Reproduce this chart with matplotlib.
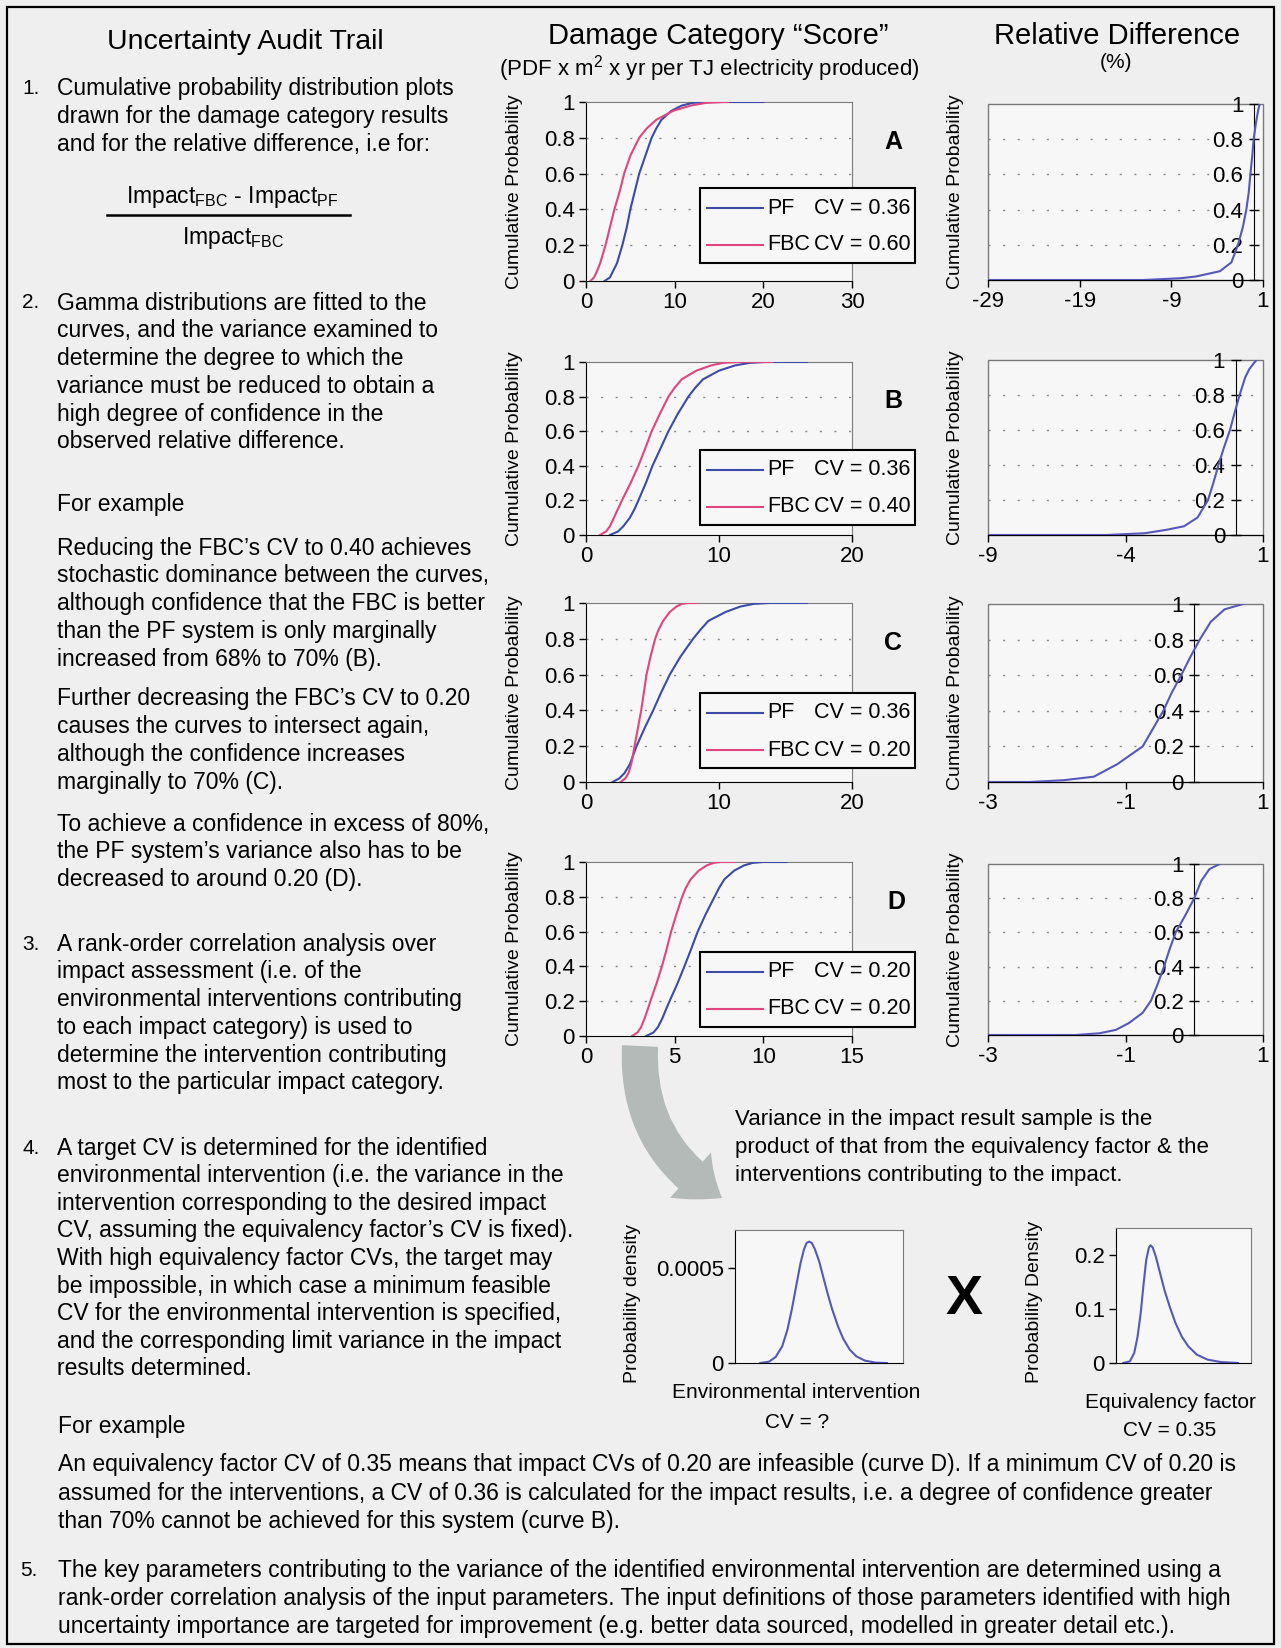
import matplotlib.pyplot as plt
from matplotlib.patches import Rectangle, FancyArrowPatch
from matplotlib.lines import Line2D

plt.rcParams['font.family'] = ['Liberation Sans', 'DejaVu Sans']
plt.rcParams['mathtext.fontset'] = 'custom'
plt.rcParams['mathtext.rm'] = 'Liberation Sans'
plt.rcParams['mathtext.it'] = 'Liberation Sans:italic'
plt.rcParams['axes.unicode_minus'] = False

W, H = 1281, 1648

BG = '#efefef'
PLOT_BG = '#f7f7f7'
PF_COLOR = '#3b4ba6'
FBC_COLOR = '#e0457f'
REL_COLOR = '#5558b8'
GRID = '#8a8a8a'
BORDER = '#7a7a7a'
ARROW = '#b4bab7'

# ---- cumulative probability curves, damage category score ----
CDF_Y = [0, 0.02, 0.05, 0.1, 0.15, 0.2, 0.3, 0.4, 0.5, 0.6, 0.7, 0.8, 0.85, 0.9, 0.95, 0.98, 0.995, 1.0, 1.0]

A_PF_X = [2.1, 2.7, 3.0, 3.5, 3.8, 4.1, 4.6, 5.0, 5.5, 6.0, 6.7, 7.4, 7.9, 8.5, 9.6, 10.8, 12.0, 13.5, 20.0]
A_FBC_X = [0.5, 0.9, 1.2, 1.6, 1.9, 2.2, 2.7, 3.2, 3.8, 4.3, 5.0, 6.0, 6.8, 7.9, 9.8, 11.8, 13.5, 15.5, 16.0]
B_PF_X = [1.8, 2.4, 2.8, 3.3, 3.65, 3.94, 4.5, 5.0, 5.6, 6.2, 6.9, 7.7, 8.2, 8.8, 10.0, 11.2, 12.3, 13.5, 16.6]
B_FBC_X = [1.05, 1.5, 1.8, 2.1, 2.4, 2.7, 3.35, 3.94, 4.45, 4.94, 5.55, 6.2, 6.65, 7.2, 8.3, 9.4, 10.3, 11.5, 14.0]
C_PF_X = [2.0, 2.5, 2.9, 3.3, 3.55, 3.8, 4.4, 5.05, 5.65, 6.3, 7.1, 8.05, 8.6, 9.2, 10.5, 11.6, 12.6, 13.8, 16.6]
C_FBC_X = [2.6, 2.95, 3.2, 3.4, 3.53, 3.65, 3.9, 4.15, 4.35, 4.55, 4.85, 5.2, 5.45, 5.8, 6.3, 6.8, 7.2, 7.7, 8.3]
D_PF_X = [3.4, 3.8, 4.05, 4.3, 4.5, 4.71, 5.15, 5.55, 5.93, 6.3, 6.75, 7.25, 7.5, 7.8, 8.35, 8.9, 9.4, 10.0, 11.3]
D_FBC_X = [2.6, 2.9, 3.1, 3.3, 3.47, 3.63, 3.97, 4.28, 4.55, 4.8, 5.1, 5.42, 5.62, 5.9, 6.35, 6.8, 7.2, 7.6, 8.4]

PF_CV = [0.36, 0.36, 0.36, 0.20]
FBC_CV = [0.60, 0.40, 0.20, 0.20]
PANEL_LETTERS = ['A', 'B', 'C', 'D']
SCORE_XMAX = [30, 20, 20, 15]
SCORE_XSTEP = [10, 10, 10, 5]

# ---- relative difference curves (%) ----
REL_A_X = [-29, -12, -8, -6.3, -3.7, -2.45, -1.73, -1.2, -0.82, -0.55, -0.38, -0.18, -0.02, 0.25, 0.5, 0.64]
REL_A_Y = [0, 0, 0.01, 0.02, 0.05, 0.1, 0.2, 0.3, 0.4, 0.5, 0.6, 0.7, 0.8, 0.9, 0.97, 1.0]
REL_B_X = [-9, -4.7, -3.3, -2.5, -1.87, -1.38, -1.0, -0.8, -0.62, -0.42, -0.2, -0.03, 0.15, 0.35, 0.51, 0.76]
REL_B_Y = [0, 0, 0.01, 0.03, 0.05, 0.1, 0.2, 0.3, 0.4, 0.5, 0.6, 0.7, 0.8, 0.9, 0.95, 1.0]
REL_C_X = [-3, -2.39, -1.9, -1.46, -1.12, -0.75, -0.6, -0.45, -0.33, -0.19, -0.06, 0.08, 0.24, 0.44, 0.71]
REL_C_Y = [0, 0, 0.01, 0.03, 0.1, 0.2, 0.3, 0.4, 0.5, 0.6, 0.7, 0.8, 0.9, 0.97, 1.0]
REL_D_X = [-3, -1.73, -1.38, -1.14, -0.95, -0.75, -0.63, -0.53, -0.44, -0.36, -0.27, -0.13, 0.0, 0.1, 0.22, 0.37]
REL_D_Y = [0, 0, 0.01, 0.03, 0.07, 0.13, 0.2, 0.3, 0.4, 0.5, 0.6, 0.7, 0.8, 0.9, 0.97, 1.0]

REL_XLIM = [(-29, 1), (-9, 1), (-3, 1), (-3, 1)]
REL_XTICKS = [[-29, -19, -9, 1], [-9, -4, 1], [-3, -1, 1], [-3, -1, 1]]

# ---- probability density sketches ----
ENV_X = [1.51, 2.03, 2.42, 2.81, 3.12, 3.38, 3.64, 3.90, 4.10, 4.26, 4.42, 4.57, 4.75, 5.01,
         5.27, 5.53, 5.79, 6.13, 6.44, 6.83, 7.22, 7.74, 8.39, 9.04]
ENV_Y = [0, 0.000007, 0.0000316, 0.0000877, 0.000175, 0.000281, 0.000404, 0.000526, 0.000596,
         0.000632, 0.000639, 0.000632, 0.0006, 0.000535, 0.000447, 0.00036, 0.000281, 0.000193,
         0.000128, 0.0000702, 0.0000351, 0.0000123, 0.0000018, 0]
EQF_X = [0.54, 1.03, 1.35, 1.60, 1.83, 2.05, 2.24, 2.44, 2.56, 2.72, 2.95, 3.27, 3.59, 3.97,
         4.39, 4.87, 5.35, 5.99, 6.79, 7.76, 9.04]
EQF_Y = [0, 0.0031, 0.0185, 0.0492, 0.0923, 0.148, 0.191, 0.214, 0.218, 0.214, 0.197, 0.166,
         0.135, 0.105, 0.075, 0.049, 0.031, 0.0154, 0.0062, 0.0018, 0]

# ---- text blocks ----
ITEM1 = ['Cumulative probability distribution plots',
         'drawn for the damage category results',
         'and for the relative difference, i.e for:']
ITEM2 = ['Gamma distributions are fitted to the',
         'curves, and the variance examined to',
         'determine the degree to which the',
         'variance must be reduced to obtain a',
         'high degree of confidence in the',
         'observed relative difference.']
EX_B = ['Reducing the FBC\u2019s CV to 0.40 achieves',
        'stochastic dominance between the curves,',
        'although confidence that the FBC is better',
        'than the PF system is only marginally',
        'increased from 68% to 70% (B).']
EX_C = ['Further decreasing the FBC\u2019s CV to 0.20',
        'causes the curves to intersect again,',
        'although the confidence increases',
        'marginally to 70% (C).']
EX_D = ['To achieve a confidence in excess of 80%,',
        'the PF system\u2019s variance also has to be',
        'decreased to around 0.20 (D).']
ITEM3 = ['A rank-order correlation analysis over',
         'impact assessment (i.e. of the',
         'environmental interventions contributing',
         'to each impact category) is used to',
         'determine the intervention contributing',
         'most to the particular impact category.']
ITEM4 = ['A target CV is determined for the identified',
         'environmental intervention (i.e. the variance in the',
         'intervention corresponding to the desired impact',
         'CV, assuming the equivalency factor\u2019s CV is fixed).',
         'With high equivalency factor CVs, the target may',
         'be impossible, in which case a minimum feasible',
         'CV for the environmental intervention is specified,',
         'and the corresponding limit variance in the impact',
         'results determined.']
EX_4 = ['An equivalency factor CV of 0.35 means that impact CVs of 0.20 are infeasible (curve D). If a minimum CV of 0.20 is',
        'assumed for the interventions, a CV of 0.36 is calculated for the impact results, i.e. a degree of confidence greater',
        'than 70% cannot be achieved for this system (curve B).']
ITEM5 = ['The key parameters contributing to the variance of the identified environmental intervention are determined using a',
         'rank-order correlation analysis of the input parameters. The input definitions of those parameters identified with high',
         'uncertainty importance are targeted for improvement (e.g. better data sourced, modelled in greater detail etc.).']
VARIANCE_NOTE = ['Variance in the impact result sample is the',
                 'product of that from the equivalency factor & the',
                 'interventions contributing to the impact.']

fig = plt.figure(figsize=(W / 100, H / 100), dpi=100, facecolor=BG)


def px_box(l, t, r, b):
    return [l / W, 1 - b / H, (r - l) / W, (b - t) / H]


def ftext(x, y, s, **kw):
    kw.setdefault('va', 'center')
    kw.setdefault('fontsize', 16.5)
    return fig.text(x / W, 1 - y / H, s, **kw)


def lines(x, y0, rows, step=27.8, **kw):
    for i, s in enumerate(rows):
        ftext(x, y0 + i * step, s, **kw)


def style_ticks(ax):
    ax.tick_params(labelsize=16, length=5, width=1, color='black', pad=3)


def add_grid(ax):
    for g in (0.2, 0.4, 0.6, 0.8):
        ax.axhline(g, color=GRID, lw=1, ls=(0, (1.5, 9)), zorder=0.5)


# outer frame
fig.add_artist(Rectangle((7 / W, 1 - 1644 / H), 1267 / W, 1637 / H, transform=fig.transFigure,
                         fill=False, edgecolor='black', lw=1.6, zorder=10))

# headers
ftext(245, 42, 'Uncertainty Audit Trail', fontsize=20.5, ha='center')
ftext(718, 36, 'Damage Category \u201cScore\u201d', fontsize=21, ha='center')
ftext(709, 69, '(PDF x m$^{2}$ x yr per TJ electricity produced)', fontsize=16, ha='center')
ftext(1117, 36, 'Relative Difference', fontsize=21, ha='center')
ftext(1116, 63, '(%)', fontsize=15, ha='center')

# left column text
ftext(22, 89, '1.', fontsize=15)
lines(57, 89, ITEM1)
ftext(232, 197, r'Impact$_{\mathrm{FBC}}$ - Impact$_{\mathrm{PF}}$', ha='center')
fig.add_artist(Line2D([107 / W, 350 / W], [1 - 215 / H] * 2, color='black', lw=1.8))
ftext(233, 238, r'Impact$_{\mathrm{FBC}}$', ha='center')

ftext(22, 303, '2.', fontsize=15)
lines(57, 303, ITEM2)
ftext(57, 504, 'For example')
lines(57, 548, EX_B)
lines(57, 699, EX_C)
lines(57, 824, EX_D)
ftext(22, 944, '3.', fontsize=15)
lines(57, 944, ITEM3)
ftext(22, 1148, '4.', fontsize=15)
lines(57, 1148, ITEM4, step=27.6)
ftext(58, 1426, 'For example')
lines(58, 1465, EX_4, step=28.3)
ftext(20, 1570, '5.', fontsize=15)
lines(58, 1570, ITEM5, step=28)

# damage category score panels
score_boxes = [(586, 102, 852, 281), (586, 362, 852, 535), (586, 603, 852, 782), (586, 862, 852, 1036)]
score_pf = [A_PF_X, B_PF_X, C_PF_X, D_PF_X]
score_fbc = [A_FBC_X, B_FBC_X, C_FBC_X, D_FBC_X]
legend_tops = [188, 450, 693, 952]
letter_pos = [(893, 142), (893, 401), (893, 643), (896, 902)]

for i in range(4):
    ax = fig.add_axes(px_box(*score_boxes[i]))
    ax.set_facecolor(PLOT_BG)
    ax.plot(score_pf[i], CDF_Y, color=PF_COLOR, lw=1.5, zorder=3)
    ax.plot(score_fbc[i], CDF_Y, color=FBC_COLOR, lw=1.5, zorder=3)
    ax.set_xlim(0, SCORE_XMAX[i])
    ax.set_ylim(0, 1)
    ax.set_xticks(range(0, SCORE_XMAX[i] + 1, SCORE_XSTEP[i]))
    ax.set_yticks([0, 0.2, 0.4, 0.6, 0.8, 1])
    ax.set_yticklabels(['0', '0.2', '0.4', '0.6', '0.8', '1'])
    add_grid(ax)
    style_ticks(ax)
    for side in ('top', 'right'):
        ax.spines[side].set_color(BORDER)
    ax.set_ylabel('Cumulative Probability', fontsize=14)
    ax.yaxis.set_label_coords(-0.235, 0.5)

    # legend box
    t = legend_tops[i]
    fig.add_artist(Rectangle((700 / W, 1 - (t + 75) / H), 215 / W, 75 / H, transform=fig.transFigure,
                             facecolor=PLOT_BG, edgecolor='black', lw=1.5, zorder=5))
    for dy, color, name, cv in ((20, PF_COLOR, 'PF', PF_CV[i]), (57, FBC_COLOR, 'FBC', FBC_CV[i])):
        fig.add_artist(Line2D([707 / W, 763 / W], [1 - (t + dy) / H] * 2, color=color, lw=1.5, zorder=6))
        ftext(767, t + dy, name, fontsize=15.5, zorder=6)
        ftext(814, t + dy, f'CV = {cv:.2f}', fontsize=15.5, zorder=6)

    lx, ly = letter_pos[i]
    ftext(lx, ly, PANEL_LETTERS[i], fontsize=18, fontweight='bold', ha='center')

# relative difference panels
rel_boxes = [(988, 104, 1263, 280), (988, 360, 1263, 535), (988, 604, 1263, 782), (988, 864, 1263, 1035)]
rel_x = [REL_A_X, REL_B_X, REL_C_X, REL_D_X]
rel_y = [REL_A_Y, REL_B_Y, REL_C_Y, REL_D_Y]

for i in range(4):
    ax = fig.add_axes(px_box(*rel_boxes[i]))
    ax.set_facecolor(PLOT_BG)
    ax.plot(rel_x[i], rel_y[i], color=REL_COLOR, lw=1.5, zorder=3)
    ax.set_xlim(*REL_XLIM[i])
    ax.set_ylim(0, 1)
    ax.set_xticks(REL_XTICKS[i])
    ax.set_yticks([0, 0.2, 0.4, 0.6, 0.8, 1])
    ax.set_yticklabels(['0', '0.2', '0.4', '0.6', '0.8', '1'])
    add_grid(ax)
    style_ticks(ax)
    ax.tick_params(axis='y', direction='inout', length=7, pad=4)
    ax.spines['left'].set_position(('data', 0))
    ax.spines['top'].set_visible(False)
    ax.spines['right'].set_visible(False)
    ax.add_patch(Rectangle((0, 0), 1, 1, transform=ax.transAxes, fill=False,
                           edgecolor=BORDER, lw=1, clip_on=False, zorder=1))
    ax.set_ylabel('Cumulative Probability', fontsize=14)
    ax.yaxis.set_label_coords(-0.087, 0.5)

# density sketches
env_ax = fig.add_axes(px_box(735, 1230, 903, 1363))
env_ax.set_facecolor(PLOT_BG)
env_ax.plot(ENV_X, ENV_Y, color=REL_COLOR, lw=1.5)
env_ax.set_xlim(0, 10)
env_ax.set_ylim(0, 0.0007)
env_ax.set_xticks([])
env_ax.set_yticks([0, 0.0005])
env_ax.set_yticklabels(['0', '0.0005'])
style_ticks(env_ax)
env_ax.set_ylabel('Probability density', fontsize=14)
env_ax.yaxis.set_label_coords(-0.56, 0.45)
for side in ('top', 'right'):
    env_ax.spines[side].set_color(BORDER)

eqf_ax = fig.add_axes(px_box(1116, 1228, 1251, 1363))
eqf_ax.set_facecolor(PLOT_BG)
eqf_ax.plot(EQF_X, EQF_Y, color=REL_COLOR, lw=1.5)
eqf_ax.set_xlim(0, 10)
eqf_ax.set_ylim(0, 0.25)
eqf_ax.set_xticks([])
eqf_ax.set_yticks([0, 0.1, 0.2])
eqf_ax.set_yticklabels(['0', '0.1', '0.2'])
style_ticks(eqf_ax)
eqf_ax.set_ylabel('Probability Density', fontsize=14)
eqf_ax.yaxis.set_label_coords(-0.54, 0.45)
for side in ('top', 'right'):
    eqf_ax.spines[side].set_color(BORDER)

ftext(796, 1393, 'Environmental intervention', fontsize=15, ha='center')
ftext(797, 1423, 'CV = ?', fontsize=15, ha='center')
ftext(1170, 1403, 'Equivalency factor', fontsize=15, ha='center')
ftext(1170, 1430, 'CV = 0.35', fontsize=15, ha='center')
ftext(964, 1300, 'X', fontsize=40, fontweight='heavy', ha='center')
lines(735, 1119, VARIANCE_NOTE, step=28, fontsize=16)

# curved arrow from panel D down to the density sketches
fig.add_artist(FancyArrowPatch((640 / W, 1 - 1046 / H), (722 / W, 1 - 1198 / H),
                               transform=fig.transFigure,
                               connectionstyle='arc3,rad=0.3',
                               arrowstyle='simple,head_length=28,head_width=44,tail_width=26',
                               mutation_scale=1, shrinkA=0, shrinkB=0,
                               facecolor=ARROW, edgecolor='none', zorder=4))

fig.savefig('out.png', dpi=100, facecolor=BG)
